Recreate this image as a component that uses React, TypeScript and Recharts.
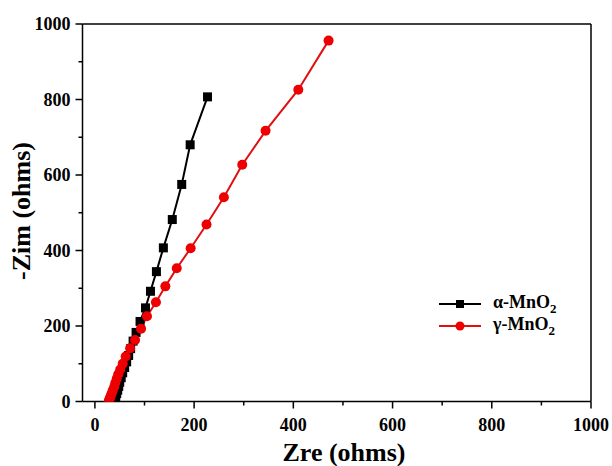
import { LineChart, Line, XAxis, YAxis, ReferenceLine } from "recharts"

// Nyquist points (Zre, -Zim in ohms)
const alphaZre = [40, 41, 42, 44, 46, 48, 50, 53, 56, 60, 64, 68, 72, 77, 83, 91, 102, 112, 124, 138, 156, 175, 192, 227]
const alphaZim = [1, 6, 13, 21, 30, 40, 51, 63, 76, 90, 105, 122, 140, 160, 183, 212, 248, 292, 344, 407, 482, 575, 680, 807]
const gammaZre = [28, 29, 30, 32, 34, 36, 39, 41, 44, 47, 51, 56, 62, 71, 81, 93, 105, 123, 142, 165, 193, 225, 260, 297, 344, 410, 471]
const gammaZim = [1, 4, 9, 15, 22, 30, 39, 49, 60, 72, 85, 100, 119, 141, 163, 193, 226, 263, 305, 353, 406, 469, 541, 627, 717, 826, 956]

const axisTicks = [0, 100, 200, 300, 400, 500, 600, 700, 800, 900, 1000]

const alphaData = alphaZre.map((zre, i) => ({ zre, zim: alphaZim[i] }))
const gammaData = gammaZre.map((zre, i) => ({ zre, zim: gammaZim[i] }))

const FONT = "'Liberation Serif', 'Times New Roman', serif"

const XTick = (props: any) => {
  const { x, y, payload } = props
  const major = payload.value % 200 === 0
  return (
    <g>
      <line x1={x} y1={y} x2={x} y2={y + (major ? 7 : 4)} stroke="#000" strokeWidth={1.5} />
      {major && (
        <text x={x} y={y + 29} textAnchor="middle" fontFamily={FONT} fontWeight="bold" fontSize={18} fill="#000">
          {payload.value}
        </text>
      )}
    </g>
  )
}

const YTick = (props: any) => {
  const { x, y, payload } = props
  const major = payload.value % 200 === 0
  return (
    <g>
      <line x1={x} y1={y} x2={x - (major ? 7 : 4)} y2={y} stroke="#000" strokeWidth={1.5} />
      {major && (
        <text x={x - 12} y={y + 6} textAnchor="end" fontFamily={FONT} fontWeight="bold" fontSize={18} fill="#000">
          {payload.value}
        </text>
      )}
    </g>
  )
}

const squareDot = (props: any) => {
  const { cx, cy, index } = props
  return <rect key={`sq-${index}`} x={cx - 4.5} y={cy - 4.5} width={9} height={9} fill="#000" />
}

const circleDot = (props: any) => {
  const { cx, cy, index } = props
  return <circle key={`ci-${index}`} cx={cx} cy={cy} r={5} fill="#ee0000" />
}

export default function App() {
  return (
    <div style={{ position: "absolute", left: 0, top: 0, width: 612, height: 466, background: "#fff" }}>
      <LineChart width={612} height={466} margin={{ top: 24, right: 21, bottom: 24.5, left: 22.5 }}>
        <XAxis
          type="number"
          dataKey="zre"
          domain={[-25, 1000]}
          ticks={axisTicks}
          allowDataOverflow
          height={40}
          tickLine={false}
          tickSize={0}
          tickMargin={0}
          tick={<XTick />}
          axisLine={{ stroke: "#000", strokeWidth: 1.5 }}
        />
        <YAxis
          type="number"
          dataKey="zim"
          domain={[0, 1000]}
          ticks={axisTicks}
          allowDataOverflow
          width={60}
          tickLine={false}
          tickSize={0}
          tickMargin={0}
          tick={<YTick />}
          axisLine={{ stroke: "#000", strokeWidth: 1.5 }}
        />
        <ReferenceLine y={1000} stroke="#000" strokeWidth={1.5} />
        <ReferenceLine x={1000} stroke="#000" strokeWidth={1.5} />
        <Line
          data={alphaData}
          dataKey="zim"
          type="linear"
          stroke="#000"
          strokeWidth={2}
          dot={squareDot}
          activeDot={false}
          isAnimationActive={false}
        />
        <Line
          data={gammaData}
          dataKey="zim"
          type="linear"
          stroke="#e01010"
          strokeWidth={2}
          dot={circleDot}
          activeDot={false}
          isAnimationActive={false}
        />
      </LineChart>

      {/* axis titles */}
      <div
        style={{
          position: "absolute",
          left: 22,
          top: 211,
          transform: "translate(-50%, -50%) rotate(-90deg)",
          fontFamily: FONT,
          fontWeight: "bold",
          fontSize: 26,
          whiteSpace: "nowrap",
          lineHeight: 1,
        }}
      >
        -Zim (ohms)
      </div>
      <div
        style={{
          position: "absolute",
          left: 344,
          top: 453,
          transform: "translate(-50%, -50%)",
          fontFamily: FONT,
          fontWeight: "bold",
          fontSize: 26,
          whiteSpace: "nowrap",
          lineHeight: 1,
        }}
      >
        Zre (ohms)
      </div>

      {/* legend */}
      <div style={{ position: "absolute", left: 439, top: 293, fontFamily: FONT, fontWeight: "bold", fontSize: 18, lineHeight: 1 }}>
        <div style={{ display: "flex", alignItems: "center", height: 22 }}>
          <svg width={42} height={12}>
            <line x1={0} y1={6} x2={42} y2={6} stroke="#000" strokeWidth={2} />
            <rect x={17} y={2} width={8} height={8} fill="#000" />
          </svg>
          <span style={{ marginLeft: 12 }}>
            α-MnO<sub style={{ fontSize: 13 }}>2</sub>
          </span>
        </div>
        <div style={{ display: "flex", alignItems: "center", height: 22 }}>
          <svg width={42} height={12}>
            <line x1={0} y1={6} x2={42} y2={6} stroke="#e01010" strokeWidth={2} />
            <circle cx={21} cy={6} r={4.5} fill="#ee0000" />
          </svg>
          <span style={{ marginLeft: 12 }}>
            γ-MnO<sub style={{ fontSize: 13 }}>2</sub>
          </span>
        </div>
      </div>
    </div>
  )
}
